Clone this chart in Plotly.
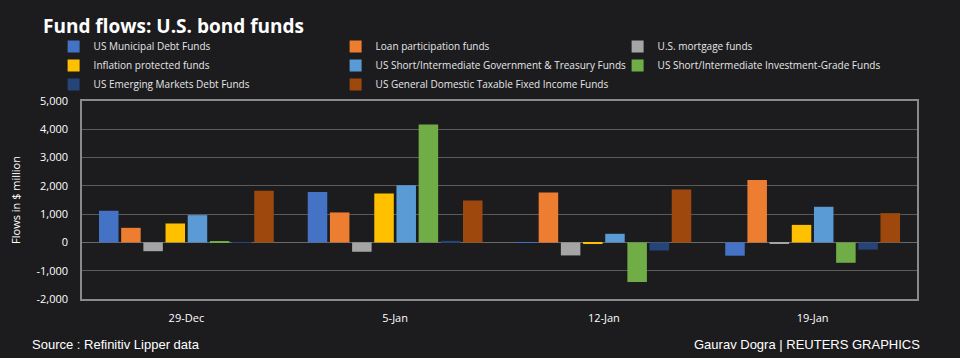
import plotly.graph_objects as go

categories = ["29-Dec", "5-Jan", "12-Jan", "19-Jan"]
series_names = [
    "US Municipal Debt Funds",
    "Loan participation funds",
    "U.S. mortgage funds",
    "Inflation protected funds",
    "US Short/Intermediate Government & Treasury Funds",
    "US Short/Intermediate Investment-Grade Funds",
    "US Emerging Markets Debt Funds",
    "US General Domestic Taxable Fixed Income Funds",
]
muni = [1120, 1780, -10, -470]
loan = [516, 1060, 1765, 2210]
mortgage = [-310, -330, -460, -50]
inflation = [670, 1730, -40, 620]
st_gov = [965, 2025, 305, 1260]
st_ig = [20, 4170, -1400, -720]
em = [-10, 55, -285, -255]
gen_domestic = [1825, 1480, 1870, 1035]
series_values = [muni, loan, mortgage, inflation, st_gov, st_ig, em, gen_domestic]
colors = ["#4472C4", "#ED7D31", "#A5A5A5", "#FFC000", "#5B9BD5", "#70AD47", "#264478", "#9E480E"]

y_tickvals = [-2000, -1000, 0, 1000, 2000, 3000, 4000, 5000]
y_ticktext = ["-2,000", "-1,000", "0", "1,000", "2,000", "3,000", "4,000", "5,000"]

BG = "#1c1c1e"
FONT = "Open Sans, Liberation Sans, sans-serif"
NARROW = "Liberation Sans Narrow, Arial Narrow, sans-serif"

fig = go.Figure()
for name, vals, col in zip(series_names, series_values, colors):
    fig.add_trace(go.Bar(x=categories, y=vals, name=name, marker=dict(color=col, line=dict(width=0))))

fig.update_layout(
    width=960, height=358,
    paper_bgcolor=BG, plot_bgcolor=BG,
    margin=dict(l=82, r=43, t=101, b=59, autoexpand=False),
    barmode="group", bargap=0.15, bargroupgap=0.12,
    font=dict(family=FONT, color="#ffffff", size=11),
    title=dict(text="<b>Fund flows: U.S. bond funds</b>", x=43/960, xref="container", xanchor="left",
               y=1 - 26/358, yref="container", yanchor="middle",
               font=dict(size=19, color="#ffffff", family=FONT)),
    legend=dict(orientation="h", x=-0.034, xanchor="left", y=1.0 + 69/198, yanchor="top",
                entrywidth=237, entrywidthmode="pixels", itemwidth=30,
                font=dict(size=10, color="#e6e6e6", family=FONT),
                tracegroupgap=0, bgcolor="rgba(0,0,0,0)", traceorder="normal"),
    xaxis=dict(showgrid=False, showline=True, linecolor="#8a8a8a", linewidth=1.5, mirror=True,
               ticks="", ticklabelstandoff=8, tickfont=dict(size=11, color="#ffffff")),
    yaxis=dict(range=[-2000, 5000], tickvals=y_tickvals, ticktext=y_ticktext,
               showgrid=True, gridcolor="#5a5a5a", gridwidth=1,
               zeroline=True, zerolinecolor="#6a6a6a", zerolinewidth=1,
               showline=True, linecolor="#8a8a8a", linewidth=1.5, mirror=True,
               ticks="", ticklabelstandoff=10,
               tickfont=dict(size=11, color="#ffffff"),
               title=dict(text="Flows in $ million", font=dict(size=11, color="#ffffff"), standoff=14)),
    annotations=[
        dict(text="Source : Refinitiv Lipper data", xref="paper", yref="paper", x=-52/835, y=-45/198,
             xanchor="left", yanchor="middle", showarrow=False,
             font=dict(size=13, color="#ffffff", family=NARROW)),
        dict(text="Gaurav Dogra | REUTERS GRAPHICS", xref="paper", yref="paper", x=1.006, y=-45/198,
             xanchor="right", yanchor="middle", showarrow=False,
             font=dict(size=13, color="#ffffff", family=NARROW)),
    ],
)

fig.write_html("out.html", config={"displayModeBar": False},
               post_script="document.body.style.margin='0';document.body.style.background='%s';" % BG)
